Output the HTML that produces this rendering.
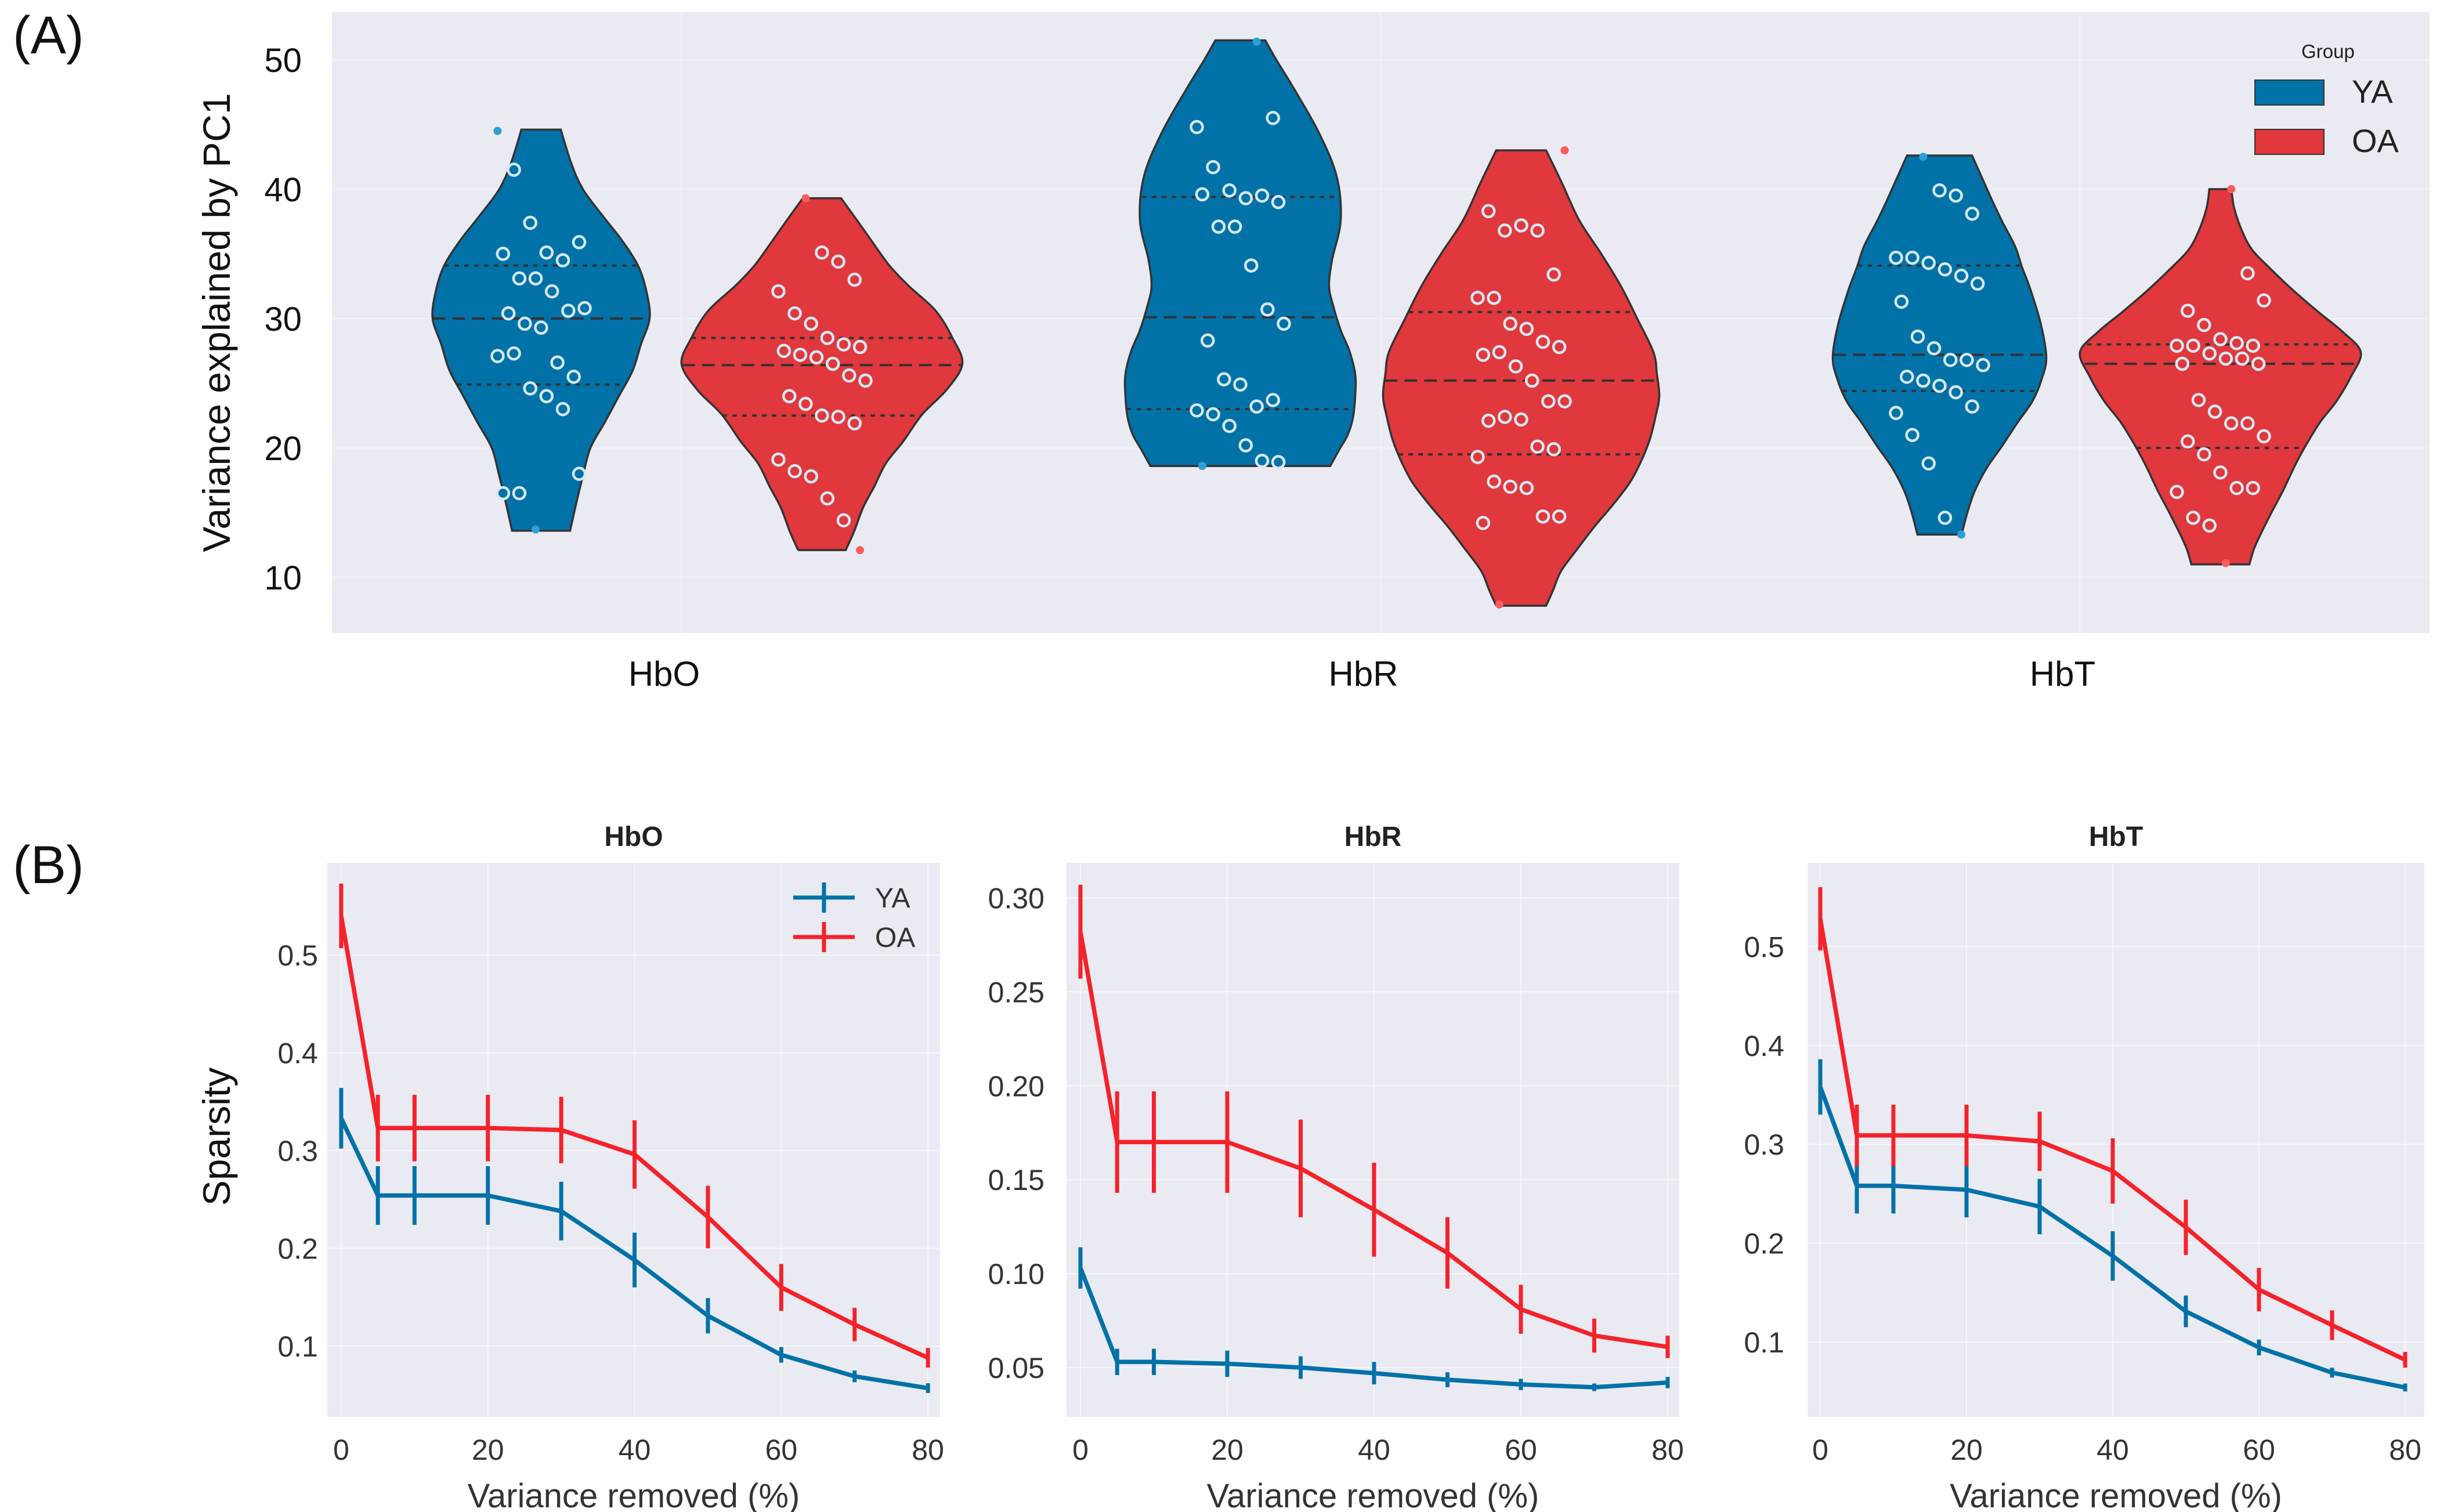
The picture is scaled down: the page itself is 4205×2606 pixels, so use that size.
<!DOCTYPE html>
<html><head><meta charset="utf-8">
<style>
html,body{margin:0;padding:0;background:#fff;}
svg{display:block;font-family:"Liberation Sans",Arial,sans-serif;}
</style></head>
<body>
<svg id="fig" width="4205" height="2606" viewBox="0 0 4205 2606" xmlns="http://www.w3.org/2000/svg">
  <rect x="0" y="0" width="4205" height="2606" fill="#fff"/>
  <text x="22" y="92" font-size="92" fill="#111">(A)</text>
  <text x="22" y="1522" font-size="92" fill="#111">(B)</text>
  <g id="panelA"></g>
  <g id="panelB"></g>
</svg>
<script>
// ================= Panel A data =================
const categoriesA = ["HbO", "HbR", "HbT"];
const groupsA = ["YA", "OA"];
const yTicksA = [10, 20, 30, 40, 50];
const profileHbO_YA = [[13.6,50],[16,62],[18,73],[20,85],[22,110],[24,134],[26,158],[28,172],[30,187],[32,182],[34,168],[36,140],[38,105],[40,72],[42,52],[44.6,34]];
const profileHbO_OA = [[12.1,41],[13.5,55],[15.4,71],[17,90],[18.8,110],[20.5,140],[22.6,173],[24.5,215],[26.5,242],[28.5,225],[30.6,196],[32.5,150],[34,118],[35.4,95],[37.5,62],[39.3,33]];
const profileHbR_YA = [[18.6,155],[19.9,171],[21,185],[22.3,194],[24,198],[25.7,198],[27.5,188],[29.1,173],[31,160],[32.5,153],[34.5,158],[37.6,173],[41,166],[44.4,135],[47.8,92],[50,62],[51.5,43]];
const profileHbR_OA = [[7.8,43],[9,55],[10.5,69],[12.2,97],[13.9,126],[15.6,158],[17.3,187],[19,207],[20.7,222],[22.5,232],[24,238],[25.7,234],[27.4,228],[30,200],[32.5,172],[35,138],[37.6,100],[40.5,70],[43,43]];
const profileHbT_YA = [[13.3,38],[15,48],[16.7,61],[18.5,82],[20.1,107],[22,135],[23.6,160],[25.3,176],[27,184],[29.5,175],[32.2,157],[34,142],[35.6,130],[37.5,108],[39.1,91],[41,72],[42.6,56]];
const profileHbT_OA = [[11.0,50],[12.2,58],[13.3,69],[15,88],[16.7,108],[18.5,127],[20.1,146],[22,172],[23.6,200],[25.5,225],[27.4,242],[29,210],[30.5,169],[32.2,125],[33.9,85],[35.3,55],[36.7,38],[38.5,24],[40.0,19]];
const quartilesHbO_YA = [24.9, 30.0, 34.1];
const quartilesHbO_OA = [22.5, 26.4, 28.5];
const quartilesHbR_YA = [23.0, 30.1, 39.4];
const quartilesHbR_OA = [19.5, 25.2, 30.5];
const quartilesHbT_YA = [24.4, 27.2, 34.1];
const quartilesHbT_OA = [20.0, 26.5, 28.0];
const pointsHbO_YA = [44.5,41.5,37.4,35.1,34.5,35.9,35.0,33.1,33.1,32.1,30.6,30.8,30.4,29.6,29.3,26.6,25.5,27.1,27.3,24.6,24.0,23.0,18.0,16.5,16.5,13.7];
const pointsHbO_OA = [39.3,35.1,34.4,33.0,32.1,30.4,29.6,28.5,28.0,27.8,27.5,27.2,27.0,26.5,25.6,25.2,24.0,23.4,22.5,22.4,21.9,19.1,18.2,17.8,16.1,14.4,12.1];
const pointsHbR_YA = [51.4,45.5,44.8,41.7,39.9,39.3,39.5,39.0,39.6,37.1,37.1,34.1,30.7,29.6,28.3,25.3,24.9,23.2,23.7,22.9,22.6,21.7,20.2,19.0,18.9,18.6];
const pointsHbR_OA = [43.0,38.3,36.8,37.2,36.8,33.4,31.6,31.6,29.6,29.2,28.2,27.8,27.2,27.4,26.3,25.2,23.6,23.6,22.1,22.4,22.2,20.1,19.9,19.3,17.4,17.0,16.9,14.7,14.7,14.2,7.9];
const pointsHbT_YA = [42.5,39.9,39.5,38.1,34.7,34.7,34.3,33.8,33.3,32.7,31.3,28.6,27.7,26.8,26.8,26.4,25.5,25.2,24.8,24.3,23.2,22.7,21.0,18.8,14.6,13.3];
const pointsHbT_OA = [40.0,33.5,31.4,30.6,29.5,28.4,28.1,27.9,27.9,27.9,27.3,26.9,26.9,26.5,26.5,23.7,22.8,21.9,21.9,20.9,20.5,19.5,18.1,16.9,16.9,16.6,14.6,14.0,11.1];

// ================= Panel B data =================
const xValuesB = [0, 5, 10, 20, 30, 40, 50, 60, 70, 80];
const xTicksB = [0, 20, 40, 60, 80];
const subplotTitles = ["HbO", "HbR", "HbT"];
const hboYA = [0.333,0.254,0.254,0.254,0.238,0.188,0.131,0.091,0.069,0.057];
const hboYAerr = [0.031,0.030,0.030,0.030,0.030,0.028,0.018,0.008,0.006,0.005];
const hboOA = [0.540,0.323,0.323,0.323,0.321,0.296,0.232,0.160,0.122,0.088];
const hboOAerr = [0.033,0.034,0.034,0.034,0.034,0.035,0.032,0.024,0.017,0.010];
const hbrYA = [0.103,0.053,0.053,0.052,0.050,0.047,0.0435,0.041,0.0395,0.042];
const hbrYAerr = [0.011,0.007,0.007,0.007,0.006,0.006,0.004,0.003,0.002,0.003];
const hbrOA = [0.282,0.170,0.170,0.170,0.156,0.134,0.111,0.081,0.067,0.061];
const hbrOAerr = [0.025,0.027,0.027,0.027,0.026,0.025,0.019,0.013,0.009,0.006];
const hbtYA = [0.358,0.258,0.258,0.254,0.237,0.187,0.131,0.0945,0.069,0.054];
const hbtYAerr = [0.028,0.028,0.028,0.028,0.028,0.025,0.016,0.008,0.005,0.004];
const hbtOA = [0.528,0.309,0.309,0.309,0.303,0.273,0.216,0.153,0.117,0.082];
const hbtOAerr = [0.032,0.031,0.031,0.031,0.030,0.033,0.028,0.022,0.015,0.008];
const yTicksB1 = [0.1, 0.2, 0.3, 0.4, 0.5];
const yTicksB2 = [0.05, 0.10, 0.15, 0.20, 0.25, 0.30];
const yTicksB3 = [0.1, 0.2, 0.3, 0.4, 0.5];
const yTickLabelsB2 = ["0.05","0.10","0.15","0.20","0.25","0.30"];

const NS = "http://www.w3.org/2000/svg";
function mk(tag, attrs, parent){ const e=document.createElementNS(NS,tag); for(const k in attrs) e.setAttribute(k,attrs[k]); parent.appendChild(e); return e; }

const BLUE="#0172a8", RED="#e0383c";
// ---------- Panel A ----------
(function(){
  const g=document.getElementById('panelA');
  const L=572, R=4187, T=21, B=1091;
  const yA = v => 995 - (v-10)*22.3;
  const xCat = i => L + (R-L)/3*(i+0.5);
  const dodge = 242;
  const bg = mk('rect',{x:L,y:T,width:R-L,height:B-T,fill:'#eaeaf2'},g);
  
  
  yTicksA.forEach(t=>{
    const ln=mk('line',{x1:L,x2:R,y1:yA(t),y2:yA(t),stroke:'#f1f1f6','stroke-width':2},g);
    
    
    const tx=mk('text',{x:520,y:yA(t)+21,'font-size':58,'text-anchor':'end',fill:'#111'},g);
    tx.textContent=t;
    
    
  });
  categoriesA.forEach((c,i)=>{
    const ln=mk('line',{x1:xCat(i),x2:xCat(i),y1:T,y2:B,stroke:'#f1f1f6','stroke-width':2},g);
    
    
    const tx=mk('text',{x:xCat(i)-30,y:1182,'font-size':60,'text-anchor':'middle',fill:'#111'},g);
    tx.textContent=c;
    
    
  });
  const yl=mk('text',{x:0,y:0,'font-size':66,'text-anchor':'middle',fill:'#111',transform:'translate(396,556) rotate(-90)'},g);
  yl.textContent='Variance explained by PC1';
  
  

  const profiles=[[profileHbO_YA,profileHbO_OA],[profileHbR_YA,profileHbR_OA],[profileHbT_YA,profileHbT_OA]];
  const quarts=[[quartilesHbO_YA,quartilesHbO_OA],[quartilesHbR_YA,quartilesHbR_OA],[quartilesHbT_YA,quartilesHbT_OA]];
  const pts=[[pointsHbO_YA,pointsHbO_OA],[pointsHbR_YA,pointsHbR_OA],[pointsHbT_YA,pointsHbT_OA]];
  function hwAt(prof,v){
    for(let k=0;k<prof.length-1;k++){
      if(v>=prof[k][0]&&v<=prof[k+1][0]){const f=(v-prof[k][0])/(prof[k+1][0]-prof[k][0]);return prof[k][1]+f*(prof[k+1][1]-prof[k][1]);}
    }
    return 0;
  }
  function smooth(P){
    let d='';
    for(let i=0;i<P.length-1;i++){
      const p0=P[Math.max(0,i-1)],p1=P[i],p2=P[i+1],p3=P[Math.min(P.length-1,i+2)];
      const c1=[p1[0]+(p2[0]-p0[0])/6,p1[1]+(p2[1]-p0[1])/6];
      const c2=[p2[0]-(p3[0]-p1[0])/6,p2[1]-(p3[1]-p1[1])/6];
      d+=` C${c1[0].toFixed(1)},${c1[1].toFixed(1)} ${c2[0].toFixed(1)},${c2[1].toFixed(1)} ${p2[0].toFixed(1)},${p2[1].toFixed(1)}`;
    }
    return d;
  }
  categoriesA.forEach((c,i)=>{
    groupsA.forEach((grp,j)=>{
      const cx=xCat(i)+(j===0?-dodge:dodge);
      const prof=profiles[i][j];
      const col=j===0?BLUE:RED;
      const right=prof.map(p=>[cx+p[1],yA(p[0])]);
      const left=prof.slice().reverse().map(p=>[cx-p[1],yA(p[0])]);
      let d=`M${cx-prof[0][1]},${yA(prof[0][0])} L${right[0][0]},${right[0][1]}`+smooth(right)+` L${left[0][0]},${left[0][1]}`+smooth(left)+' Z';
      const v=mk('path',{d:d,fill:col,stroke:'#333','stroke-width':3.5},g);
      
      
      quarts[i][j].forEach((q,k)=>{
        const hw=hwAt(prof,q);
        const ql=mk('line',{x1:cx-hw,x2:cx+hw,y1:yA(q),y2:yA(q),stroke:'#333','stroke-width':4,'stroke-dasharray':k===1?'22,12':'8,9'},g);
        
        
      });
      const arr=pts[i][j];
      const mx=Math.max(...arr), mn=Math.min(...arr);
      arr.forEach((val,k)=>{
        const jit=(((k*37+i*11+j*5)%17)/16-0.5)*150;
        const ext=(val===mx||val===mn);
        const p=mk('circle',{cx:cx+jit,cy:yA(val),r:ext?7:10,fill:ext?(j===0?'#2f9fd6':'#ff5a5e'):col,stroke:ext?'none':'#d6e8f2','stroke-width':4.5},g);
        
        
      });
    });
  });
  const lt=mk('text',{x:4012,y:100,'font-size':33,'text-anchor':'middle',fill:'#222'},g);
  lt.textContent='Group';
  
  
  groupsA.forEach((grp,j)=>{
    const y0=j===0?138:223;
    const r=mk('rect',{x:3886,y:y0,width:119,height:43,fill:j===0?BLUE:RED,stroke:'#333','stroke-width':2},g);
    
    
    const t=mk('text',{x:4053,y:y0+39,'font-size':56,fill:'#222'},g);
    t.textContent=grp;
    
    
  });
})();

// ---------- Panel B ----------
(function(){
  const g=document.getElementById('panelB');
  const cfg=[
    {L:564,R:1620,x0:588,xs:12.64,ty:[0.1,2320],ys:1685,ticks:yTicksB1,labels:yTicksB1.map(v=>v.toFixed(1)),ya:hboYA,yae:hboYAerr,oa:hboOA,oae:hboOAerr,lblx:548},
    {L:1838,R:2894,x0:1862,xs:12.65,ty:[0.05,2357],ys:3238,ticks:yTicksB2,labels:yTickLabelsB2,ya:hbrYA,yae:hbrYAerr,oa:hbrOA,oae:hbrOAerr,lblx:1800},
    {L:3115,R:4178,x0:3137,xs:12.6,ty:[0.1,2313],ys:1704,ticks:yTicksB3,labels:yTicksB3.map(v=>v.toFixed(1)),ya:hbtYA,yae:hbtYAerr,oa:hbtOA,oae:hbtOAerr,lblx:3075}
  ];
  const T=1487,B=2442;
  cfg.forEach((c,si)=>{
    const xf=v=>c.x0+v*c.xs;
    const yf=v=>c.ty[1]-(v-c.ty[0])*c.ys;
    const bg=mk('rect',{x:c.L,y:T,width:c.R-c.L,height:B-T,fill:'#eaeaf2'},g);
    
    
    c.ticks.forEach((t,k)=>{
      const ln=mk('line',{x1:c.L,x2:c.R,y1:yf(t),y2:yf(t),stroke:'#f6f6fa','stroke-width':2},g);
      
      
      const tx=mk('text',{x:c.lblx,y:yf(t)+18,'font-size':50,'text-anchor':'end',fill:'#333'},g);
      tx.textContent=c.labels[k];
      
      
    });
    xTicksB.forEach(t=>{
      const ln=mk('line',{x1:xf(t),x2:xf(t),y1:T,y2:B,stroke:'#f6f6fa','stroke-width':2},g);
      
      
      const tx=mk('text',{x:xf(t),y:2516,'font-size':50,'text-anchor':'middle',fill:'#333'},g);
      tx.textContent=t;
      
      
    });
    const tt=mk('text',{x:(c.L+c.R)/2,y:1458,'font-size':48,'font-weight':'bold','text-anchor':'middle',fill:'#222'},g);
    tt.textContent=subplotTitles[si];
    
    
    const xl=mk('text',{x:(c.L+c.R)/2,y:2598,'font-size':58,'text-anchor':'middle',fill:'#333'},g);
    xl.textContent='Variance removed (%)';
    
    
    [[c.ya,c.yae,BLUE,'ya'],[c.oa,c.oae,'#f5222a','oa']].forEach(s=>{
      const pts=xValuesB.map((x,k)=>xf(x).toFixed(1)+','+yf(s[0][k]).toFixed(1)).join(' ');
      const pl=mk('polyline',{points:pts,fill:'none',stroke:s[2],'stroke-width':7.5,'stroke-linejoin':'round'},g);
      
      
      xValuesB.forEach((x,k)=>{
        const e=mk('line',{x1:xf(x),x2:xf(x),y1:yf(s[0][k]-s[1][k]),y2:yf(s[0][k]+s[1][k]),stroke:s[2],'stroke-width':7},g);
        
        
      });
    });
  });
  const yl=mk('text',{x:0,y:0,'font-size':66,'text-anchor':'middle',fill:'#111',transform:'translate(396,1959) rotate(-90)'},g);
  yl.textContent='Sparsity';
  
  
  [['YA',BLUE,1547],['OA','#f5222a',1615]].forEach(l=>{
    const a=mk('line',{x1:1367,x2:1473,y1:l[2],y2:l[2],stroke:l[1],'stroke-width':7},g);
    
    
    const b=mk('line',{x1:1420,x2:1420,y1:l[2]-26,y2:l[2]+26,stroke:l[1],'stroke-width':7},g);
    
    
    const t=mk('text',{x:1508,y:l[2]+17,'font-size':48,fill:'#333'},g);
    t.textContent=l[0];
    
    
  });
})();
</script>
</body></html>
